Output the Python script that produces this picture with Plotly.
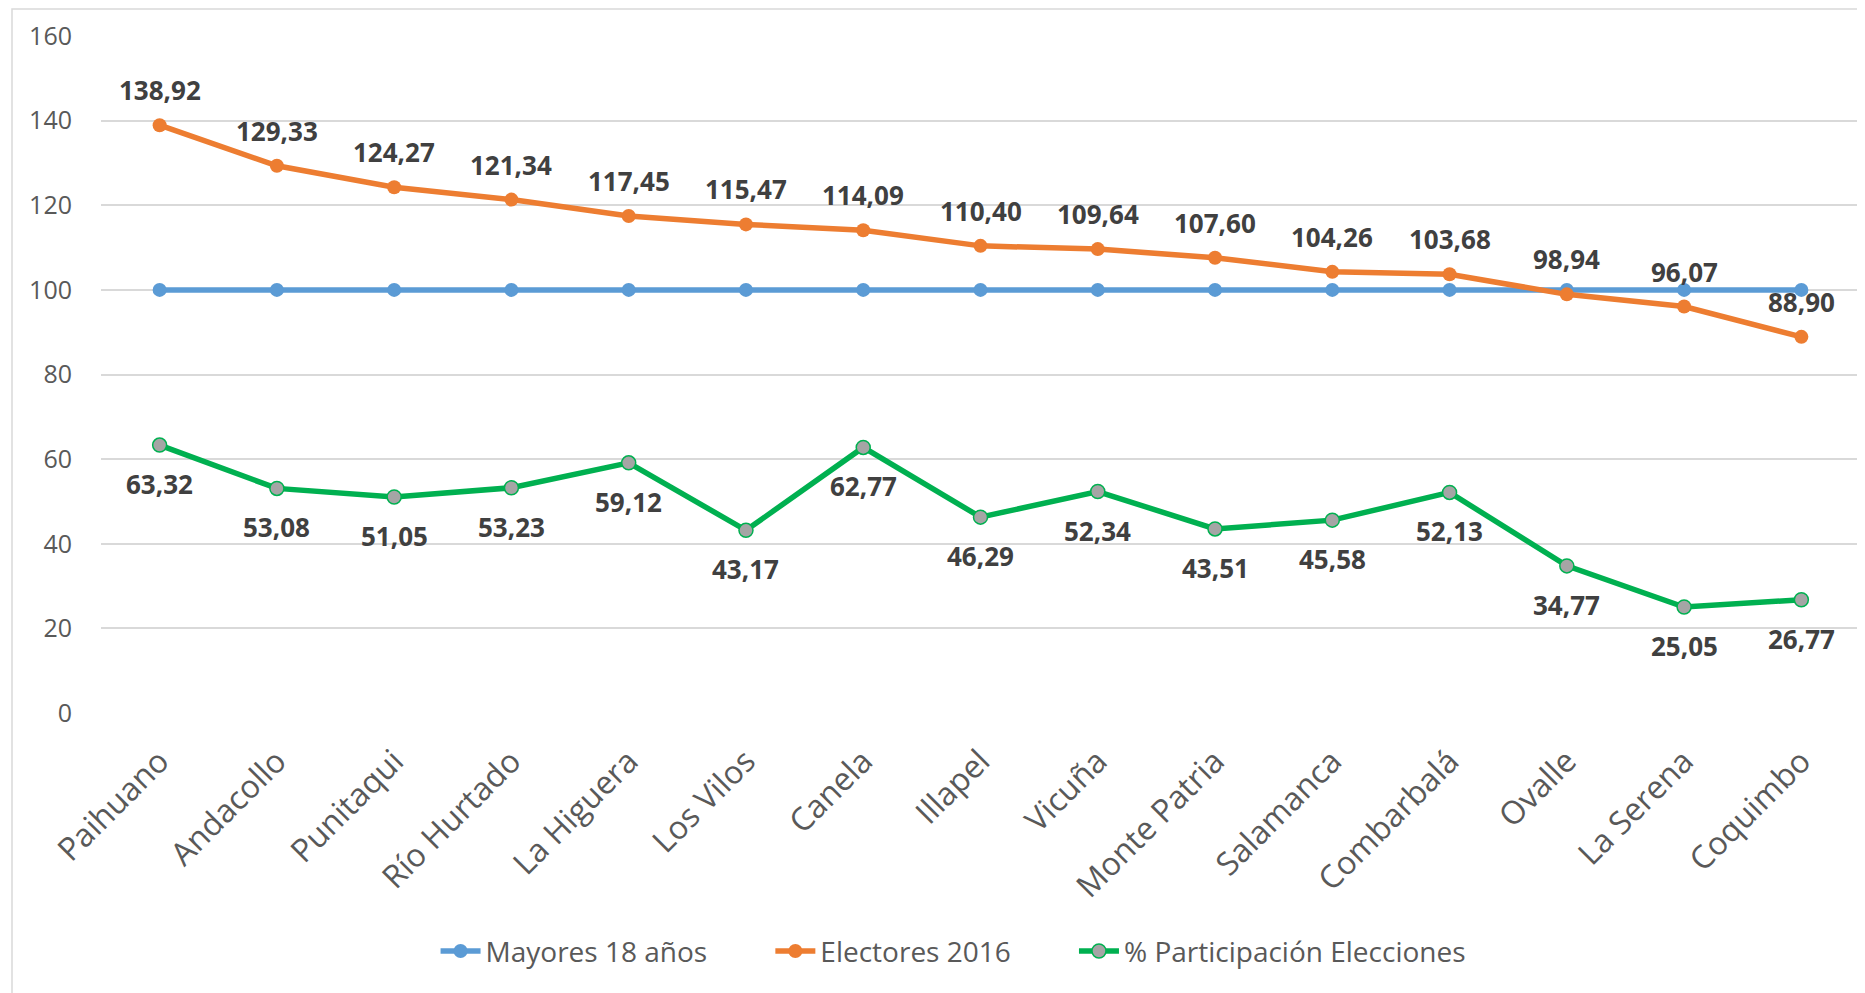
import plotly.graph_objects as go

# Comunas de la región de Coquimbo
comunas = ["Paihuano", "Andacollo", "Punitaqui", "Río Hurtado", "La Higuera", "Los Vilos",
           "Canela", "Illapel", "Vicuña", "Monte Patria", "Salamanca", "Combarbalá",
           "Ovalle", "La Serena", "Coquimbo"]

mayores_18 = [100] * 15
electores_2016 = [138.92, 129.33, 124.27, 121.34, 117.45, 115.47, 114.09, 110.40,
                  109.64, 107.60, 104.26, 103.68, 98.94, 96.07, 88.90]
participacion = [63.32, 53.08, 51.05, 53.23, 59.12, 43.17, 62.77, 46.29,
                 52.34, 43.51, 45.58, 52.13, 34.77, 25.05, 26.77]

y_ticks = [0, 20, 40, 60, 80, 100, 120, 140, 160]

FONT = "Open Sans"
LABEL_COLOR = "#404040"
PAD = "\u00a0" * 8  # espacio entre entradas de la leyenda


def fmt(v):
    return f"{v:.2f}".replace(".", ",")


fig = go.Figure()

fig.add_trace(go.Scatter(
    x=comunas, y=mayores_18, name="Mayores 18 años" + PAD, mode="lines+markers",
    line=dict(color="#5B9BD5", width=5.5),
    marker=dict(size=14, color="#5B9BD5"),
))
fig.add_trace(go.Scatter(
    x=comunas, y=electores_2016, name="Electores 2016" + PAD, mode="lines+markers",
    line=dict(color="#ED7D31", width=5.5),
    marker=dict(size=14, color="#ED7D31"),
))
fig.add_trace(go.Scatter(
    x=comunas, y=participacion, name="% Participación Elecciones", mode="lines+markers",
    line=dict(color="#00B050", width=5.5),
    marker=dict(size=14, color="#A5A5A5", line=dict(color="#00B050", width=1.5)),
))

# etiquetas de datos
annotations = []
for c, v in zip(comunas, electores_2016):
    annotations.append(dict(x=c, y=v, text=fmt(v), showarrow=False, yshift=35,
                            font=dict(family=FONT, size=26, color=LABEL_COLOR, weight="bold")))
for c, v in zip(comunas, participacion):
    annotations.append(dict(x=c, y=v, text=fmt(v), showarrow=False, yshift=-39,
                            font=dict(family=FONT, size=26, color=LABEL_COLOR, weight="bold")))

fig.update_layout(
    width=1857, height=985,
    margin=dict(l=93, r=5, t=28, b=280, autoexpand=False),
    paper_bgcolor="white", plot_bgcolor="white",
    font=dict(family=FONT, color="#595959"),
    showlegend=True,
    legend=dict(orientation="h", x=0.4844, xanchor="center", y=-0.352, yanchor="middle",
                font=dict(size=28, color="#595959"), itemwidth=40, tracegroupgap=0),
    annotations=annotations,
    shapes=[dict(type="rect", xref="paper", yref="paper", x0=-0.0506, x1=1.01,
                 y0=-0.45, y1=1.040, line=dict(color="#D9D9D9", width=1.5))],
)

fig.update_xaxes(
    range=[-0.5, len(comunas) - 0.5],
    tickangle=-45, tickfont=dict(size=32, color="#595959"),
    showgrid=False, showline=False, ticks="", ticklabelstandoff=22,
)
fig.update_yaxes(
    range=[0, 160], tickvals=y_ticks, tickfont=dict(size=25, color="#595959"),
    showgrid=True, gridcolor="#D9D9D9", gridwidth=1.5, zeroline=False,
    showline=False, ticks="", ticklabelstandoff=28,
)

fig.write_html("out.html")
